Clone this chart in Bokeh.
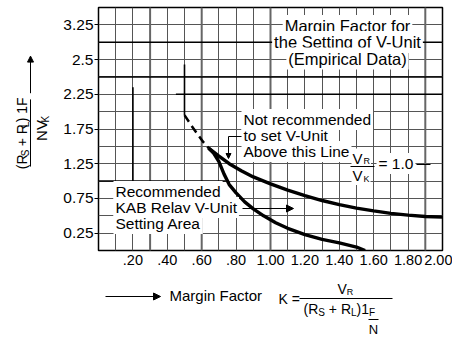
import math
from bokeh.plotting import figure
from bokeh.layouts import column, row
from bokeh.models import FixedTicker, Label, Arrow, NormalHead, Range1d
from bokeh.embed import file_html
from bokeh.resources import INLINE

# ---------------- data ----------------
x_ticks = [0.2, 0.4, 0.6, 0.8, 1.0, 1.2, 1.4, 1.6, 1.8, 2.0]
x_tick_labels = [".20", ".40", ".60", ".80", "1.00", "1.20", "1.40", "1.60", "1.80", "2.00"]
y_ticks = [0.25, 0.75, 1.25, 1.75, 2.25, 2.75, 3.25]
y_tick_labels = ["0.25", "0.75", "1.25", "1.75", "2.25", "2.5", "3.25"]
grid_x = [0.1, 0.2, 0.3, 0.4, 0.5, 0.6, 0.7, 0.8, 0.9, 1.0, 1.1, 1.2, 1.3, 1.4, 1.5, 1.6, 1.7, 1.8, 1.9]
grid_y = [0.25, 0.5, 0.75, 1.0, 1.25, 1.5, 1.75, 2.0, 2.25, 2.5, 2.75, 3.0, 3.25]
heavy_grid_x = [0.3, 0.6, 1.0, 1.9]

# upper limit curve (V_R / V_K = 1.0)
upper_x = [0.64, 0.70, 0.76, 0.83, 0.90, 1.00, 1.10, 1.20, 1.30, 1.40, 1.50, 1.60, 1.70, 1.80, 1.90, 2.00]
upper_y = [1.475, 1.36, 1.25, 1.15, 1.06, 0.96, 0.87, 0.79, 0.72, 0.66, 0.61, 0.57, 0.535, 0.51, 0.49, 0.48]
# lower curve
lower_x = [0.64, 0.67, 0.70, 0.73, 0.76, 0.80, 0.85, 0.90, 0.96, 1.03, 1.10, 1.20, 1.30, 1.40, 1.50, 1.55]
lower_y = [1.475, 1.40, 1.28, 1.10, 0.95, 0.83, 0.70, 0.60, 0.50, 0.40, 0.32, 0.23, 0.16, 0.11, 0.05, 0.0]
# dashed extension
dashed_x = [0.50, 0.54, 0.58, 0.61, 0.64]
dashed_y = [1.95, 1.80, 1.66, 1.56, 1.475]
# heavy region lines of the original chart
region_x0 = [0.0, 0.0, 0.45, 0.0, 0.2, 0.5]
region_y0 = [3.0, 2.5, 2.25, 1.0, 2.35, 2.68]
region_x1 = [2.0, 2.0, 2.0, 0.74, 0.2, 0.5]
region_y1 = [3.0, 2.5, 2.25, 1.0, 1.0, 1.95]

# ---------------- layout geometry (page pixels) ----------------
PW, PH = 452, 337
LEFT_W = 55          # width of the y-title panel
TOP_H = 275          # height of the chart row
BH = PH - TOP_H      # height of the x-title panel
FL, FR, FT, FB = 98, 442, 7, 250   # plot frame edges on the page
XMAX, YMAX = 2.0, 3.5
FONT = "Liberation Sans"
NB = "\u00a0"


def X(px):
    return (px - FL) * XMAX / (FR - FL)


def Y(py):
    return (FB - py) * YMAX / (FB - FT)


# ---------------- main chart ----------------
p = figure(width=PW - LEFT_W, height=TOP_H, x_range=Range1d(0, XMAX), y_range=Range1d(0, YMAX),
           output_backend="svg", toolbar_location=None, title_location=None,
           min_border_left=FL - LEFT_W, min_border_right=PW - FR,
           min_border_top=FT, min_border_bottom=TOP_H - FB)
p.background_fill_color = "white"
p.border_fill_color = "white"
p.outline_line_color = "black"
p.outline_line_width = 1.5

p.xaxis.ticker = FixedTicker(ticks=x_ticks)
p.xaxis.major_label_overrides = {t: l for t, l in zip(x_ticks, x_tick_labels)}
p.yaxis.ticker = FixedTicker(ticks=y_ticks)
p.yaxis.major_label_overrides = {t: l for t, l in zip(y_ticks, y_tick_labels)}
for ax in (p.xaxis[0], p.yaxis[0]):
    ax.axis_line_color = None
    ax.minor_tick_line_color = None
    ax.major_label_text_font = FONT
    ax.major_label_text_color = "black"
p.xaxis.major_label_text_font_size = "14.5px"
p.yaxis.major_label_text_font_size = "15.5px"
p.xaxis.major_tick_line_color = None
p.xaxis.major_tick_out = 0
p.xaxis.major_tick_in = 0
p.xaxis.major_label_standoff = 4
p.yaxis.major_tick_line_color = "black"
p.yaxis.major_tick_out = 4
p.yaxis.major_tick_in = 0
p.yaxis.major_label_standoff = 1

p.xgrid.ticker = FixedTicker(ticks=grid_x)
p.ygrid.ticker = FixedTicker(ticks=grid_y)
for g in (p.xgrid[0], p.ygrid[0]):
    g.grid_line_color = "#555555"
    g.grid_line_width = 1

p.segment(x0=heavy_grid_x, y0=[0] * len(heavy_grid_x), x1=heavy_grid_x, y1=[YMAX] * len(heavy_grid_x),
          line_color="#666666", line_width=2)
p.segment(x0=region_x0, y0=region_y0, x1=region_x1, y1=region_y1, line_color="black", line_width=1.6)

p.line(upper_x, upper_y, line_color="black", line_width=3.4)
p.line(lower_x, lower_y, line_color="black", line_width=3.4)
p.line(dashed_x, dashed_y, line_color="black", line_width=2.5, line_dash="8 5")


# ---------------- helpers ----------------
def lab(fig, x, y, text, size, align="left", angle=0.0, bg=None, pad=0):
    kw = {}
    if bg:
        kw = dict(background_fill_color=bg, padding=pad)
    fig.add_layout(Label(x=x, y=y, text=text, text_font=FONT, text_font_size=f"{size}px",
                         text_color="black", text_align=align, text_baseline="middle",
                         angle=angle, **kw))


def seg(fig, x0, y0, x1, y1, head=None, width=1.2):
    end = NormalHead(size=head, fill_color="black", line_color="black", line_width=1) if head else None
    fig.add_layout(Arrow(x_start=x0, y_start=y0, x_end=x1, y_end=y1,
                         end=end, line_color="black", line_width=width))


WID = {' ': 278, NB: 278, '(': 333, ')': 333, '+': 584, '1': 556, 'F': 611, 'K': 667, 'L': 556,
       'N': 722, 'R': 722, 'S': 667, 'V': 667, '=': 584, '.': 278, '0': 556}


def tw(s, size):
    return sum(WID[c] for c in s) * size / 1000.0


# main chart: positions given in page pixels (text centre line)
def mlab(px, pyc, text, size, align="left", bg=None, pad=0):
    shift = pad if (bg and align == "left") else 0
    lab(p, X(px - shift), Y(pyc), text, size, align=align, bg=bg, pad=pad)


def mseg(px0, py0, px1, py1, **kw):
    seg(p, X(px0), Y(py0), X(px1), Y(py1), **kw)


# ---- boxed texts inside the chart ----
for t, c in [("Margin Factor for", 25.5), ("the Setting of V-Unit", 41.5), ("(Empirical Data)", 58)]:
    mlab(347, c, t, 16.5, align="center", bg="white", pad=2)

for t, c in [("Not recommended", 119), ("to set V-Unit", 135), ("Above this Line", 151)]:
    mlab(243, c, t, 15.5, bg="white", pad=2)

for t, c in [("Recommended", 191), ("KAB Relay V-Unit", 207), ("Setting Area", 223)]:
    mlab(115, c, t, 15.5, bg="white", pad=2)

# V_R / V_K = 1.0
mlab(352, 157.5, "V", 15, bg="white", pad=1)
mlab(363, 160.5, "R", 9, bg="white", pad=1)
mlab(352, 175, "V", 15, bg="white", pad=1)
mlab(363, 178, "K", 9, bg="white", pad=1)
mlab(378, 163, "= 1.0", 15.5, bg="white", pad=2)
mseg(350, 166, 374, 166, width=1)
mseg(416, 164, 430, 164, width=1)

# leader arrow from "to set V-Unit"
mseg(241, 136, 228, 136, width=1)
mseg(228, 136, 228, 158, head=5, width=1)
# arrow from "Recommended ... V-Unit"
mseg(242, 208, 293, 208, head=7, width=1)

# ---------------- y-title panel (data = page x, TOP_H - page y) ----------------
left = figure(width=LEFT_W, height=TOP_H, x_range=Range1d(0, LEFT_W), y_range=Range1d(0, TOP_H),
              output_backend="svg", toolbar_location=None, title_location=None,
              x_axis_type=None, y_axis_type=None, min_border=0)
left.outline_line_color = None
left.background_fill_color = "white"
left.border_fill_color = "white"


def seq_v(fig, xc, py0, pieces):
    py = py0
    for text, size, dx in pieces:
        lab(fig, xc + dx, TOP_H - py, text, size, angle=math.pi / 2)
        py -= tw(text, size)


seq_v(left, 21, 183, [("(R", 14, 0), ("S", 10, 4), (NB + "+" + NB + "R", 14, 0), ("L", 10, 4),
                      (")" + NB + "1F", 14, 0)])
seg(left, 30, TOP_H - 180, 30, TOP_H - 104, width=1)
seq_v(left, 41, 151, [("NV", 15, 0), ("K", 10, 4)])
seg(left, 30, TOP_H - 97, 30, TOP_H - 55, head=6, width=1)

# ---------------- x-title panel (data = page x, PH - page y) ----------------
bottom = figure(width=PW, height=BH, x_range=Range1d(0, PW), y_range=Range1d(0, BH),
                output_backend="svg", toolbar_location=None, title_location=None,
                x_axis_type=None, y_axis_type=None, min_border=0)
bottom.outline_line_color = None
bottom.background_fill_color = "white"
bottom.border_fill_color = "white"


def B(py):
    return PH - py


def seq_h(fig, x0, pyc, pieces):
    x = x0
    for text, size, dy in pieces:
        lab(fig, x, B(pyc + dy), text, size)
        x += tw(text, size)


seg(bottom, 105, B(296), 160, B(296), head=7, width=1)
lab(bottom, 169, B(295), "Margin Factor", 15)
lab(bottom, 278, B(298), "K" + NB + "=", 14)
seg(bottom, 299, B(298), 392, B(298), width=1)
seq_h(bottom, 337, 288, [("V", 14, 0), ("R", 9, 3)])
seq_h(bottom, 303, 308.5, [("(R", 14, 0), ("S", 10, 3), (NB + "+" + NB + "R", 14, 0), ("L", 10, 3),
                            (")1", 14, 0), ("F", 10, 3)])
seg(bottom, 368, B(319), 378, B(319), width=1)
lab(bottom, 373, B(328.5), "N", 13, align="center")

layout = column(row(left, p, spacing=0), bottom, spacing=0)
open("out.html", "w").write(file_html(layout, INLINE))
